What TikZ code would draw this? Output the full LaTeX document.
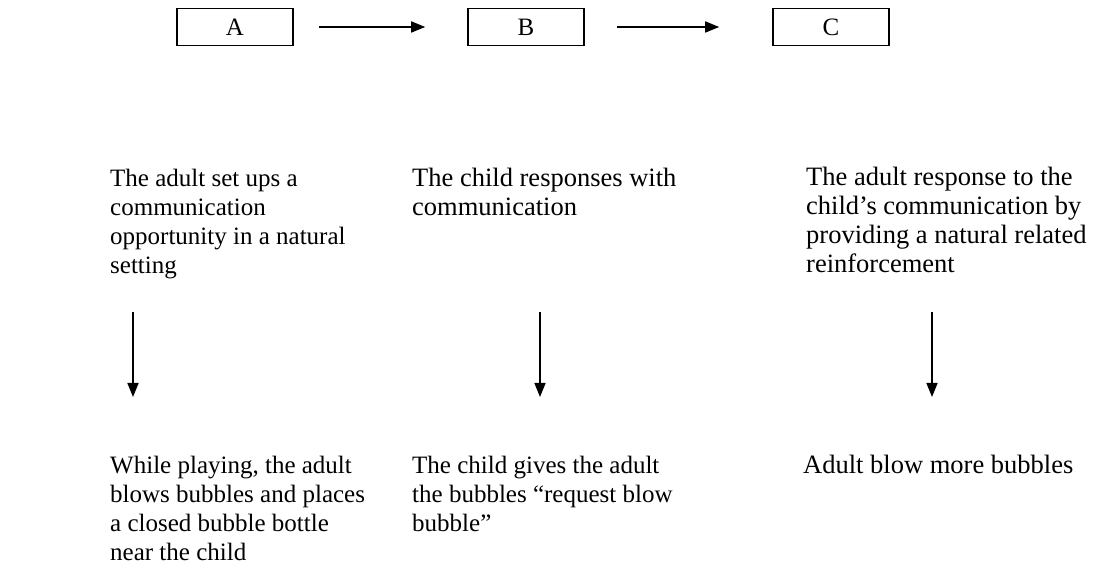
\documentclass[tikz,border=0pt]{standalone}
\usepackage{fontspec}
\setmainfont{Liberation Serif}
\usetikzlibrary{arrows.meta}
\begin{document}
\begin{tikzpicture}[x=1pt,y=-1pt,
  lbox/.style={draw,line width=1.6pt,minimum width=116pt,minimum height=37pt,inner sep=0pt,font=\fontsize{25}{29}\selectfont},
  para/.style={anchor=north west,align=left,inner sep=0pt,font=\fontsize{25}{29}\selectfont},
  bigpara/.style={para,font=\fontsize{26.5}{29}\selectfont},
  arr/.style={line width=1.6pt,-{Triangle[length=14pt,width=11pt]}}]
\useasboundingbox (0,0) rectangle (1093,561);
% top boxes
\node[lbox] (A) at (235,27) {A};
\node[lbox] (B) at (526,27) {B};
\node[lbox] (C) at (831,27) {C};
\draw[arr,shorten <=25pt,shorten >=42pt] (A) -- (B);
\draw[arr,shorten <=32pt,shorten >=53pt] (B) -- (C);
% first row of texts
\node[para] (ta) at (110,166) {\strut The adult set ups a\\communication\\opportunity in a natural\\setting};
\node[bigpara] (tb) at (412,166) {\strut The child responses with\\communication};
\node[bigpara] (tc) at (806,165) {\strut The adult response to the\\child’s communication by\\providing a natural related\\reinforcement};
% down arrows
\coordinate (da1) at (133,312); \coordinate (da2) at (133,397);
\coordinate (db1) at (540,312); \coordinate (db2) at (540,397);
\coordinate (dc1) at (932,312); \coordinate (dc2) at (932,397);
\draw[arr] (da1) -- (da2);
\draw[arr] (db1) -- (db2);
\draw[arr] (dc1) -- (dc2);
% second row of texts
\node[para] (ba) at (110,453) {\strut While playing, the adult\\blows bubbles and places\\a closed bubble bottle\\near the child};
\node[para] (bb) at (412,453) {\strut The child gives the adult\\the bubbles “request blow\\bubble”};
\node[bigpara] (bc) at (803,453) {\strut Adult blow more bubbles};
\end{tikzpicture}
\end{document}
